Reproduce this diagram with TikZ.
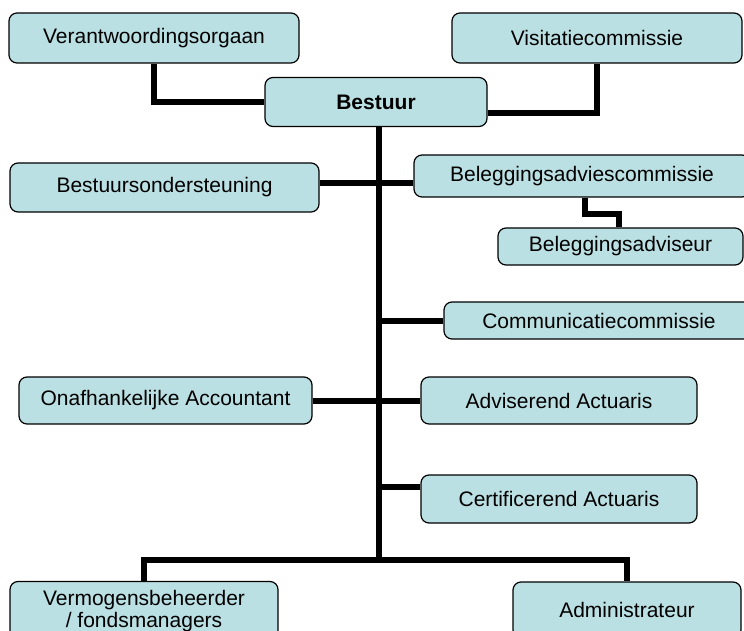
\documentclass[tikz,border=0pt]{standalone}
\usepackage{fontspec}
\setmainfont{Liberation Sans}
\usetikzlibrary{positioning}
\definecolor{boxfill}{RGB}{187,224,227}

\begin{document}
\begin{tikzpicture}[
  x=1pt, y=-1pt,
  box/.style={rectangle, draw, line width=1.2pt, fill=boxfill, rounded corners=8pt, align=center, inner sep=2pt, font=\fontsize{21}{22}\selectfont},
  conn/.style={line width=6pt}
]
  \useasboundingbox (0,0) rectangle (744,631);
  \clip (0,0) rectangle (744,631);

  \node[box, minimum width=290pt, minimum height=50pt] (vo) at (154,38) {Verantwoordingsorgaan};

  \node[box, minimum width=290pt, minimum height=50pt] (vc) at (597,38) {Visitatiecommissie};

  \node[box, minimum width=222pt, minimum height=49pt, font=\fontsize{21}{22}\selectfont\bfseries] (bestuur) at (376,102) {Bestuur};

  \node[box, minimum width=309pt, minimum height=49pt] (bo) at (164.5,187.5) {Bestuursondersteuning};

  \node[box, minimum width=336pt, minimum height=42pt] (bac) at (582,176) {Beleggingsadviescommissie};

  \node[box, minimum width=245pt, minimum height=37pt] (ba) at (620.5,246.5) {Beleggingsadviseur};

  \node[box, minimum width=310pt, minimum height=37pt] (cc) at (599,320.5) {Communicatiecommissie};

  \node[box, minimum width=293pt, minimum height=47pt] (oa) at (165.5,400.5) {Onafhankelijke Accountant};

  \node[box, minimum width=276pt, minimum height=47pt] (aa) at (559,400.5) {Adviserend Actuaris};

  \node[box, minimum width=276pt, minimum height=48pt] (ca) at (559,499) {Certificerend Actuaris};

  \node[box, minimum width=268pt, minimum height=59pt] (vb) at (144,611) {Vermogensbeheerder\\/ fondsmanagers};

  \node[box, minimum width=228pt, minimum height=56pt] (adm) at (627,610) {Administrateur};

  % trunk
  \coordinate (top) at (379,126.5);
  \coordinate (hub) at (379,560);

  \draw[conn] (vo.south) |- (bestuur.west);
  \draw[conn] (vc.south) |- ([yshift=-11pt]bestuur.east);
  \draw[conn] (top) -- (hub);
  \draw[conn] (bo.east |- 0,183) -- (bac.west |- 0,183);
  \draw[conn] ([xshift=3pt]bac.south) -- ++(0,-16pt) -| ([xshift=-1.5pt]ba.north);
  \draw[conn] (top |- cc.west) -- (cc.west);
  \draw[conn] (oa.east) -- (aa.west);
  \draw[conn] (top |- 0,487) -- (ca.west |- 0,487);
  \draw[conn] (vb.north) |- (hub) -| (adm.north);
\end{tikzpicture}
\end{document}
